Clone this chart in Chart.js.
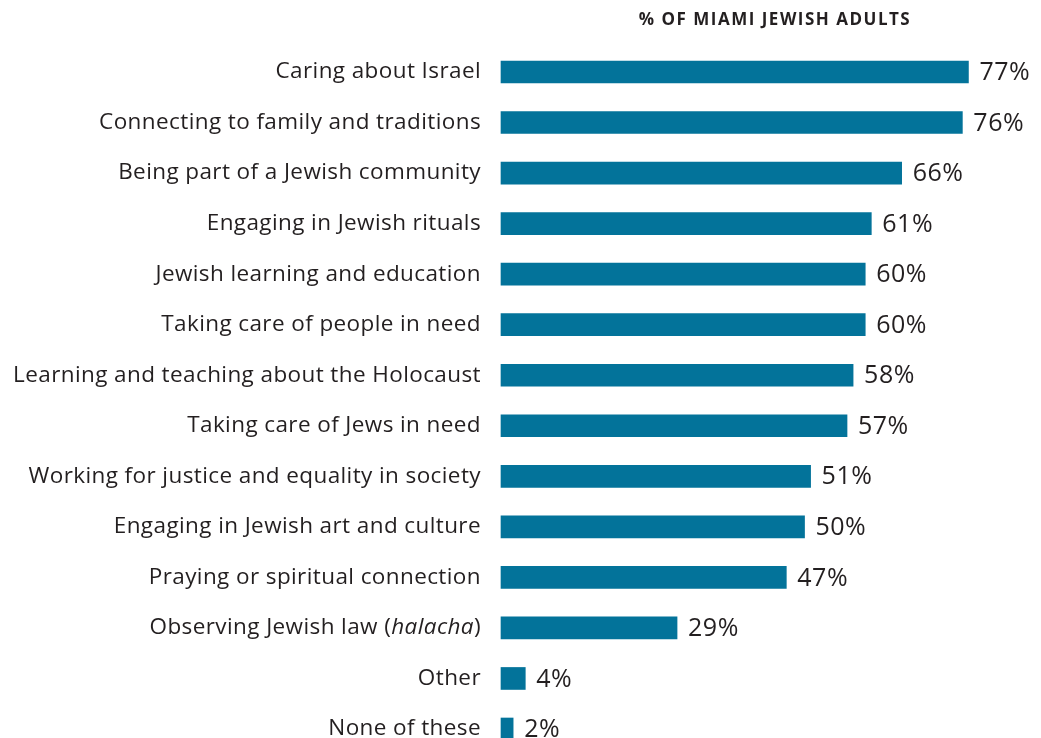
<!DOCTYPE html>
<html>
<head>
<meta charset="utf-8">
<script src="https://cdn.jsdelivr.net/npm/chart.js@4.4.1/dist/chart.umd.min.js"></script>
<style>
html,body{margin:0;padding:0;background:#fff;}
#wrap{width:1041px;height:738px;position:relative;}
</style>
</head>
<body>
<div id="wrap"><canvas id="c" width="1041" height="738"></canvas></div>
<script>
const categories = [
  "Caring about Israel",
  "Connecting to family and traditions",
  "Being part of a Jewish community",
  "Engaging in Jewish rituals",
  "Jewish learning and education",
  "Taking care of people in need",
  "Learning and teaching about the Holocaust",
  "Taking care of Jews in need",
  "Working for justice and equality in society",
  "Engaging in Jewish art and culture",
  "Praying or spiritual connection",
  "Observing Jewish law (halacha)",
  "Other",
  "None of these"
];
const values = [77, 76, 66, 61, 60, 60, 58, 57, 51, 50, 47, 29, 4, 2];
const valueLabels = ["77%","76%","66%","61%","60%","60%","58%","57%","51%","50%","47%","29%","4%","2%"];
const axisTitle = "% OF MIAMI JEWISH ADULTS";

const FONT = "'Open Sans', sans-serif";
const TEXT = "#231f20";
const BAR = "#03739a";

function setSpacing(ctx, s) { if ('letterSpacing' in ctx) ctx.letterSpacing = s + 'px'; }

const labelPlugin = {
  id: 'labels',
  afterDatasetsDraw(chart) {
    const ctx = chart.ctx;
    const y = chart.scales.y, x = chart.scales.x;
    ctx.save();
    ctx.fillStyle = TEXT;
    ctx.textBaseline = 'middle';
    setSpacing(ctx, 0.4);
    const normal = "22.5px " + FONT, ital = "italic 22.5px " + FONT;
    categories.forEach((cat, i) => {
      const py = y.getPixelForValue(i);
      const rx = x.left - 20;
      const m = cat.match(/^(.*\()(halacha)(\))$/);
      if (m) {
        ctx.textAlign = 'left';
        ctx.font = normal; const w1 = ctx.measureText(m[1]).width, w3 = ctx.measureText(m[3]).width;
        ctx.font = ital; const w2 = ctx.measureText(m[2]).width;
        let sx = rx - (w1 + w2 + w3);
        ctx.font = normal; ctx.fillText(m[1], sx, py); sx += w1;
        ctx.font = ital; ctx.fillText(m[2], sx, py); sx += w2;
        ctx.font = normal; ctx.fillText(m[3], sx, py);
      } else {
        ctx.textAlign = 'right';
        ctx.font = normal;
        ctx.fillText(cat, rx, py);
      }
    });
    ctx.textAlign = 'left';
    ctx.font = "25px " + FONT;
    setSpacing(ctx, 0.5);
    values.forEach((v, i) => {
      ctx.fillText(valueLabels[i], x.getPixelForValue(v) + 11, y.getPixelForValue(i) + 1);
    });
    ctx.textAlign = 'center';
    ctx.font = "bold 17px " + FONT;
    setSpacing(ctx, 1.5);
    ctx.fillText(axisTitle, 775, 20);
    ctx.restore();
  }
};

new Chart(document.getElementById('c'), {
  type: 'bar',
  data: {
    labels: categories,
    datasets: [{
      data: values,
      backgroundColor: BAR,
      borderWidth: 0,
      barThickness: 22,
      clip: false
    }]
  },
  options: {
    indexAxis: 'y',
    responsive: false,
    animation: false,
    layout: { padding: { left: 501, right: 24, top: 72, bottom: 9 } },
    plugins: { legend: { display: false }, tooltip: { enabled: false } },
    scales: {
      x: { display: false, min: 0, max: 85 },
      y: { display: false, offset: false, grid: { display: false } }
    }
  },
  plugins: [labelPlugin]
});
</script>
</body>
</html>
